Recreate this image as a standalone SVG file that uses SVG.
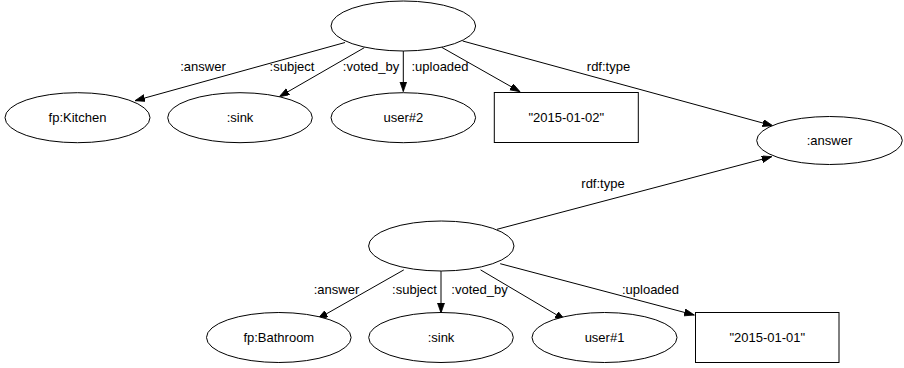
<svg xmlns="http://www.w3.org/2000/svg" width="904" height="368" viewBox="0 0 904 368">
  <defs>
    <style>
      .node ellipse, .node rect { fill: #ffffff; stroke: #000000; stroke-width: 1; }
      .node text { font-family: "Liberation Sans", Arial, sans-serif; font-size: 13px; text-anchor: middle; fill: #000000; }
      .edge path { fill: none; stroke: #000000; stroke-width: 1; marker-end: url(#arrow); }
      .edge text { font-family: "Liberation Sans", Arial, sans-serif; font-size: 13px; text-anchor: middle; fill: #000000; }
    </style>
    <marker id="arrow" markerWidth="11" markerHeight="8" refX="10" refY="3.5" orient="auto" markerUnits="userSpaceOnUse">
      <path d="M0,0 L10,3.5 L0,7 z" fill="#000000" stroke="#000000" stroke-width="0.8"/>
    </marker>
  </defs>

  <rect width="904" height="368" fill="#ffffff"/>

  <!-- connectors -->
  <g id="edges">
    <g class="edge" id="e_top_answer">
      <path d="M345,42.5 L135,100.7"/>
      <text x="203" y="71">:answer</text>
    </g>
    <g class="edge" id="e_top_subject">
      <path d="M364.3,47.7 L279.3,96.7"/>
      <text x="292" y="71">:subject</text>
    </g>
    <g class="edge" id="e_top_voted">
      <path d="M403.3,51 L403.3,91.5"/>
      <text x="371" y="71">:voted_by</text>
    </g>
    <g class="edge" id="e_top_uploaded">
      <path d="M441.7,47.3 L520,91.7"/>
      <text x="440" y="71">:uploaded</text>
    </g>
    <g class="edge" id="e_top_type">
      <path d="M462.7,41 L772.7,125.7"/>
      <text x="608.5" y="71">rdf:type</text>
    </g>
    <g class="edge" id="e_bot_type">
      <path d="M497,229.3 L771.7,156.7"/>
      <text x="603" y="188">rdf:type</text>
    </g>
    <g class="edge" id="e_bot_answer">
      <path d="M403.8,269.9 L317.7,318.8"/>
      <text x="336.5" y="294">:answer</text>
    </g>
    <g class="edge" id="e_bot_subject">
      <path d="M441,271 L441,313"/>
      <text x="414.5" y="294">:subject</text>
    </g>
    <g class="edge" id="e_bot_voted">
      <path d="M480.6,269.9 L565,319.8"/>
      <text x="479.5" y="294">:voted_by</text>
    </g>
    <g class="edge" id="e_bot_uploaded">
      <path d="M500.2,263.7 L694.3,315"/>
      <text x="650.5" y="294">:uploaded</text>
    </g>
  </g>

  <!-- first answer (upper blank node) -->
  <g class="node" id="n_answer1">
    <ellipse cx="403.3" cy="26" rx="72.3" ry="25"/>
  </g>
  <g class="node" id="n_kitchen">
    <ellipse cx="77.5" cy="117.7" rx="72.5" ry="25"/>
    <text x="77.5" y="122.3">fp:Kitchen</text>
  </g>
  <g class="node" id="n_sink1">
    <ellipse cx="240" cy="117.7" rx="72.3" ry="25"/>
    <text x="240" y="122.3">:sink</text>
  </g>
  <g class="node" id="n_user2">
    <ellipse cx="403.3" cy="117.7" rx="72.3" ry="25"/>
    <text x="403.3" y="122.3">user#2</text>
  </g>
  <g class="node" id="n_date2">
    <rect x="494.3" y="92.5" width="144" height="50"/>
    <text x="566.3" y="122.3">"2015-01-02"</text>
  </g>

  <!-- shared type -->
  <g class="node" id="n_answer_type">
    <ellipse cx="829.5" cy="140.5" rx="72.8" ry="24"/>
    <text x="829.5" y="145">:answer</text>
  </g>

  <!-- second answer (lower blank node) -->
  <g class="node" id="n_answer2">
    <ellipse cx="441.3" cy="246" rx="72.7" ry="25"/>
  </g>
  <g class="node" id="n_bathroom">
    <ellipse cx="278.8" cy="337.5" rx="72.3" ry="25"/>
    <text x="278.8" y="342">fp:Bathroom</text>
  </g>
  <g class="node" id="n_sink2">
    <ellipse cx="441" cy="337.5" rx="72.3" ry="25"/>
    <text x="441" y="342">:sink</text>
  </g>
  <g class="node" id="n_user1">
    <ellipse cx="604.5" cy="337.5" rx="72.5" ry="25"/>
    <text x="604.5" y="342">user#1</text>
  </g>
  <g class="node" id="n_date1">
    <rect x="695.5" y="312.5" width="143.5" height="50"/>
    <text x="767.3" y="342">"2015-01-01"</text>
  </g>
</svg>
